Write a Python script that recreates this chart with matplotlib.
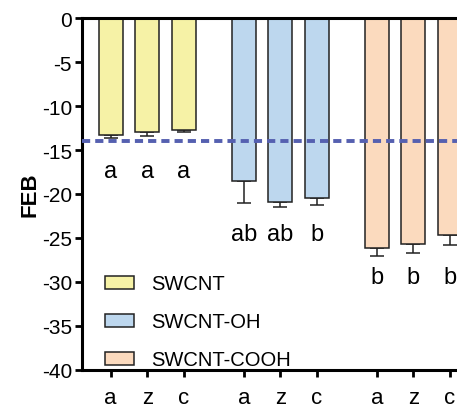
import matplotlib
matplotlib.use('Agg')
import matplotlib.pyplot as plt
from matplotlib.patches import Patch
import numpy as np

# data
groups = ['SWCNT', 'SWCNT-OH', 'SWCNT-COOH']
tick_labels = ['a', 'z', 'c']
feb_swcnt = [-13.3, -12.9, -12.7]
feb_oh = [-18.5, -20.9, -20.5]
feb_cooh = [-26.1, -25.7, -24.7]
err_swcnt = [0.3, 0.5, 0.3]
err_oh = [2.5, 0.6, 0.8]
err_cooh = [1.0, 1.0, 1.1]
letters_swcnt = ['a', 'a', 'a']
letters_oh = ['ab', 'ab', 'b']
letters_cooh = ['b', 'b', 'b']
letter_level = [-17.4, -24.6, -29.4]
threshold = -14.0

colors = ['#F6F2A6', '#BDD7EE', '#FBDABE']
values = [feb_swcnt, feb_oh, feb_cooh]
errors = [err_swcnt, err_oh, err_cooh]
letters = [letters_swcnt, letters_oh, letters_cooh]

plt.rcParams['font.family'] = ['Liberation Sans', 'DejaVu Sans']
plt.rcParams['axes.unicode_minus'] = False

fig = plt.figure(figsize=(4.57, 4.14), dpi=100)
ax = fig.add_axes([0.179, 0.104, 0.821, 0.850])

group_step = 3.63
width = 0.66
xticks = []
xticklabels = []
for g in range(3):
    x = np.arange(3) + g * group_step
    v = np.array(values[g])
    e = np.array(errors[g])
    ax.bar(x, v, width=width, color=colors[g], edgecolor='#222222',
           linewidth=1.1, zorder=2)
    ax.errorbar(x, v, yerr=[e, np.zeros_like(e)], fmt='none', ecolor='#222222',
                elinewidth=1.1, capsize=5, capthick=1.1, zorder=1)
    for xi, lab in zip(x, letters[g]):
        ax.text(xi, letter_level[g], lab, ha='center', va='center', fontsize=17)
    xticks.extend(x)
    xticklabels.extend(tick_labels)

ax.axhline(threshold, color='#5560B0', linewidth=2.8, linestyle=(0, (2.1, 1.3)),
           zorder=3)

ax.set_ylim(-40, 0)
ax.set_xlim(-0.79, 9.45)
ax.set_yticks(np.arange(-40, 1, 5))
ax.set_xticks(xticks)
ax.set_xticklabels(xticklabels, fontsize=16)
ax.tick_params(axis='y', labelsize=15, length=5, width=2, pad=2)
ax.tick_params(axis='x', length=5, width=2, pad=7)

for s in ['left', 'top', 'bottom']:
    ax.spines[s].set_linewidth(2.2)
ax.spines['right'].set_visible(False)

ax.set_ylabel('FEB', fontsize=16, fontweight='bold', labelpad=1)

handles = [Patch(facecolor=c, edgecolor='#222222', linewidth=1.1) for c in colors]
ax.legend(handles, groups, loc='upper left', bbox_to_anchor=(0.061, 0.272),
          frameon=False, fontsize=14.5, handlelength=1.45, handleheight=0.6,
          handletextpad=0.85, labelspacing=0.95, borderpad=0, borderaxespad=0)

fig.savefig('out.png', dpi=100)
